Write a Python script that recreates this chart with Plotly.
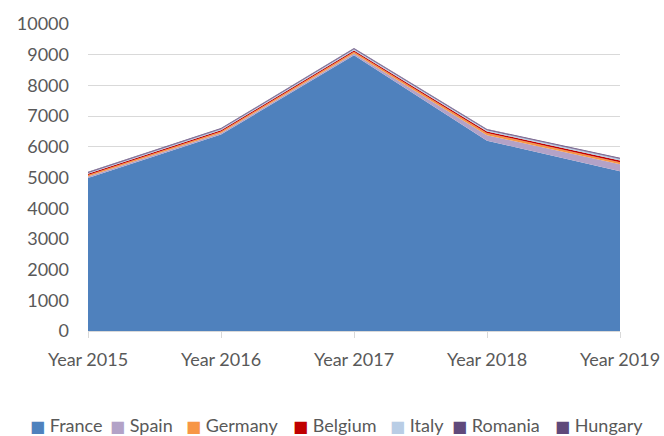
import plotly.graph_objects as go

years = ["Year 2015", "Year 2016", "Year 2017", "Year 2018", "Year 2019"]
france = [4980, 6400, 8980, 6200, 5200]
spain = [50, 50, 60, 180, 230]
germany = [50, 50, 60, 70, 70]
belgium = [40, 40, 40, 50, 50]
italy = [30, 30, 40, 40, 50]
romania = [20, 20, 20, 20, 20]
hungary = [20, 20, 20, 20, 20]

names = ["France", "Spain", "Germany", "Belgium", "Italy", "Romania", "Hungary"]
values = [france, spain, germany, belgium, italy, romania, hungary]
colors = ["#4f81bd", "#b3a2c7", "#f79646", "#c00000", "#b9cde5", "#604a7b", "#5f497a"]

fig = go.Figure()
for name, vals, col in zip(names, values, colors):
    fig.add_trace(go.Scatter(
        x=years, y=vals, name=name, mode="lines", stackgroup="one",
        line=dict(width=0, color=col), fillcolor=col, showlegend=False,
    ))

font = dict(family="Lato, 'Open Sans', sans-serif", size=18, color="#595959")

# legend row (square swatch + name), positioned like the reference
legend_x = [28, 108, 184, 291, 388, 450, 553]
for name, col, lx in zip(names, colors, legend_x):
    fig.add_annotation(
        xref="paper", yref="paper",
        x=(lx - 88) / 532, y=(331 - 425) / 307,
        xanchor="left", yanchor="middle", showarrow=False,
        text=f'<span style="color:{col};font-family:DejaVu Sans;font-size:16px">■</span> {name}',
        font=dict(family="Lato, sans-serif", size=18, color="#595959"),
    )

fig.update_layout(
    width=664, height=436,
    margin=dict(l=88, r=44, t=24, b=105, autoexpand=False),
    paper_bgcolor="white", plot_bgcolor="white",
    font=font,
    showlegend=False,
    xaxis=dict(range=[0, 4], showgrid=False, showline=True, linecolor="#d9d9d9",
               ticks="outside", tickcolor="#d9d9d9", ticklen=6, tickfont=font,
               ticklabelstandoff=6, zeroline=False),
    yaxis=dict(range=[0, 10000], dtick=1000, tickformat="d", showgrid=True,
               gridcolor="#d9d9d9", zeroline=False, showline=False, tickfont=font,
               ticklabelstandoff=18),
)
fig.write_html("out.html", config={"displayModeBar": False})

with open("out.html", "r", encoding="utf-8") as f:
    html = f.read()
html = html.replace("<head>", "<head><style>html,body{margin:0;padding:0;overflow:hidden}</style>", 1)
with open("out.html", "w", encoding="utf-8") as f:
    f.write(html)
